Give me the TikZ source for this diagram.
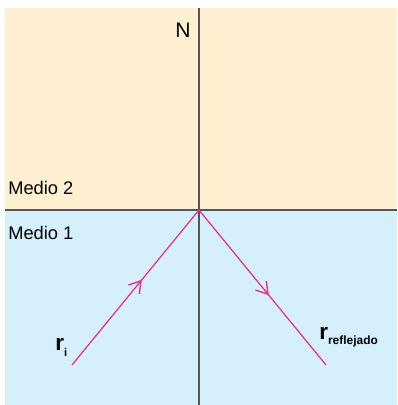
\documentclass[tikz,border=0pt]{standalone}
\usepackage{fontspec}
\setmainfont{Liberation Sans}
\usetikzlibrary{arrows.meta,decorations.markings}

\definecolor{medioDos}{HTML}{FDEFD0}
\definecolor{medioUno}{HTML}{D5EFFB}
\definecolor{rayo}{HTML}{E8318F}
\definecolor{eje}{HTML}{555555}

\begin{document}
\begin{tikzpicture}[
    x=0.025cm, y=-0.025cm,
    axis line/.style={draw=eje, line width=1.1pt},
    ray line/.style={draw=rayo, line width=0.9pt,
        postaction={decorate},
        decoration={markings, mark=at position 0.55 with {\arrow[rayo]{Straight Barb[length=8pt,width=10pt,line width=1pt]}}}},
    medio label/.style={anchor=base west, inner sep=0pt, font=\fontsize{13}{15}\selectfont},
    ray label/.style={anchor=base west, inner sep=0pt, font=\bfseries\fontsize{16}{18}\selectfont}
]
\useasboundingbox (0,0) rectangle (398,405);

% los dos medios
\fill[medioDos] (5,8) rectangle (397,210);
\fill[medioUno] (5,210) rectangle (397,405);

% normal y superficie
\coordinate (Ntop) at (199,8);
\coordinate (Nbot) at (199,405);
\coordinate (Sleft) at (5,210);
\coordinate (Sright) at (397,210);
\coordinate (O) at (199,210);
\draw[axis line] (Ntop) -- (Nbot);
\draw[axis line] (Sleft) -- (Sright);

% rayos incidente y reflejado
\coordinate (Ri) at (72,365);
\coordinate (Rr) at (326,365);
\draw[ray line] (Ri) -- (O);
\draw[ray line] (O) -- (Rr);

% textos
\node[medio label, font=\fontsize{15}{17}\selectfont] (N) at (175,38) {N};
\node[medio label] (M2) at (8,195) {Medio 2};
\node[medio label] (M1) at (8,239) {Medio 1};
\node[ray label] (ri) at (55,350) {r\raisebox{-4.3pt}{\fontsize{8}{9}\selectfont i}};
\node[ray label] (rr) at (319,339) {r\raisebox{-3.6pt}{\fontsize{8.5}{9}\selectfont reflejado}};

\end{tikzpicture}
\end{document}
